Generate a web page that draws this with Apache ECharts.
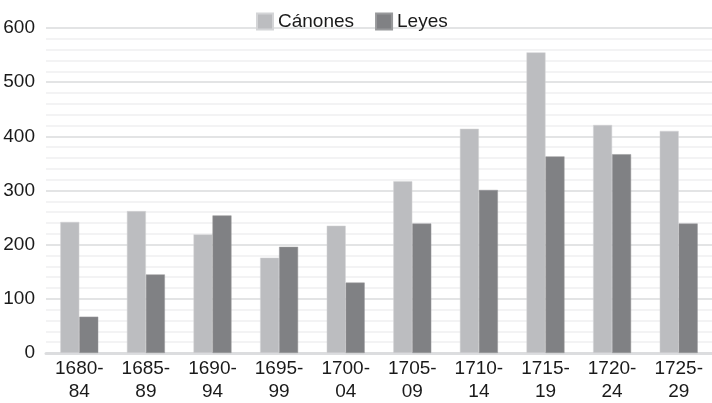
<!DOCTYPE html>
<html><head><meta charset="utf-8">
<script src="https://cdn.jsdelivr.net/npm/echarts@6/dist/echarts.min.js"></script>
<style>html,body{margin:0;padding:0;background:#fff}#c{width:712px;height:403px}</style>
</head><body><div id="c"></div>
<script>
const categories = ['1680-\n84','1685-\n89','1690-\n94','1695-\n99','1700-\n04','1705-\n09','1710-\n14','1715-\n19','1720-\n24','1725-\n29'];
const canones = [242, 262, 219, 176, 235, 317, 414, 555, 421, 410];
const leyes = [67, 145, 254, 196, 130, 239, 301, 363, 367, 239];
const yTicks = [0, 100, 200, 300, 400, 500, 600];

const chart = echarts.init(document.getElementById('c'));
chart.setOption({
  animation: false,
  textStyle: {fontFamily: 'Liberation Sans, Arial, sans-serif'},
  legend: {
    top: 7, left: 251, itemWidth: 16, itemHeight: 16, itemGap: 21, icon: 'rect',
    textStyle: {fontSize: 19, color: '#1a1a1a'},
    data: ['Cánones', 'Leyes']
  },
  grid: {left: 46, right: -2, top: 28, bottom: 49, containLabel: false},
  xAxis: {
    type: 'category', data: categories,
    axisLine: {lineStyle: {color: '#dcdddf', width: 3}},
    axisTick: {show: false},
    axisLabel: {fontSize: 19, color: '#1a1a1a', lineHeight: 23, margin: 4}
  },
  yAxis: {
    type: 'value', min: yTicks[0], max: yTicks[yTicks.length-1], interval: 100,
    axisLine: {show: false}, axisTick: {show: false},
    axisLabel: {fontSize: 19, color: '#1a1a1a', margin: 11},
    splitLine: {lineStyle: {color: '#e3e4e5', width: 2}},
    minorTick: {show: false, splitNumber: 5},
    minorSplitLine: {show: true, lineStyle: {color: '#f3f3f4', width: 2}}
  },
  series: [
    {name: 'Cánones', type: 'bar', data: canones, barGap: '0%', barCategoryGap: '43%',
     itemStyle: {color: '#bcbdc0', borderColor: '#d4d5d7', borderWidth: 0.5}},
    {name: 'Leyes', type: 'bar', data: leyes,
     itemStyle: {color: '#808184', borderColor: '#98999b', borderWidth: 0.5}}
  ]
});
</script></body></html>
